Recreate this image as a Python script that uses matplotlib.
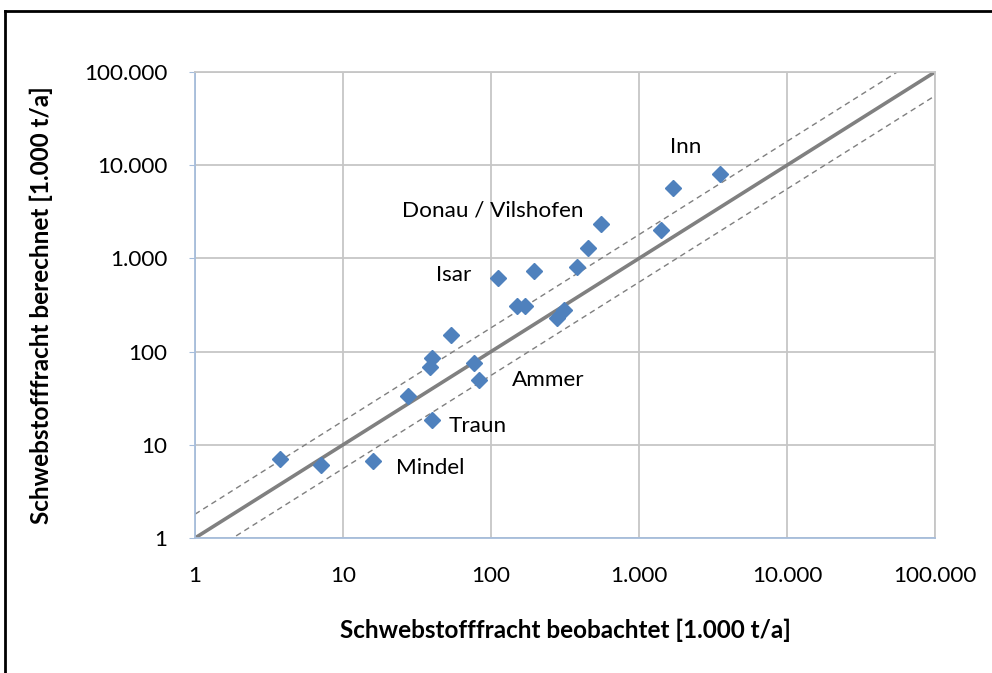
import matplotlib
matplotlib.use("Agg")
import matplotlib.pyplot as plt
from matplotlib.lines import Line2D
import numpy as np

# Observed vs. computed suspended sediment load [1.000 t/a]
beobachtet = [3.75, 7.1, 16.0, 27.6, 40.0, 39.0, 40.0, 54.0, 77.0, 83.0,
              150.0, 170.0, 280.0, 313.0, 112.0, 194.0, 380.0, 455.0,
              550.0, 1415.0, 1690.0, 3540.0]
berechnet = [7.0, 6.0, 6.7, 33.0, 18.5, 68.0, 86.0, 150.0, 76.0, 50.0,
             310.0, 305.0, 230.0, 280.0, 620.0, 730.0, 810.0, 1280.0,
             2350.0, 2030.0, 5740.0, 8100.0]

# Named stations: (name, observed, computed)
stationen = ["Inn", "Donau / Vilshofen", "Isar", "Ammer", "Traun", "Mindel"]
station_x = [3540.0, 550.0, 112.0, 83.0, 40.0, 16.0]
station_y = [8100.0, 2350.0, 620.0, 50.0, 18.5, 6.7]

tick_values = [1, 10, 100, 1000, 10000, 100000]
tick_labels = ["1", "10", "100", "1.000", "10.000", "100.000"]

band_factor = 1.8  # dashed tolerance band around the 1:1 line

plt.rcParams["font.family"] = ["Lato", "DejaVu Sans"]

fig = plt.figure(figsize=(9.92, 6.73), dpi=100)
ax = fig.add_axes([195 / 992, 1 - 538 / 673, 740 / 992, 466 / 673])

ax.set_xscale("log")
ax.set_yscale("log")
ax.set_xlim(1, 100000)
ax.set_ylim(1, 100000)

ax.grid(True, which="major", color="#c6c6c6", linewidth=1.3)
ax.set_axisbelow(True)

ref = np.array([1.0, 100000.0])
ax.plot(ref, ref, color="#808080", linewidth=2.6, solid_capstyle="butt", zorder=2)
ax.plot(ref, ref * band_factor, color="#7f7f7f", linewidth=1.0,
        linestyle=(0, (4, 3)), zorder=2)
ax.plot(ref, ref / band_factor, color="#7f7f7f", linewidth=1.0,
        linestyle=(0, (4, 3)), zorder=2)

ax.plot(beobachtet, berechnet, linestyle="none", marker="D", markersize=8,
        color="#4f81bd", markeredgecolor="#4f81bd", zorder=3, clip_on=False)

# Station labels, placed relative to their marker in pixels
offsets = {
    "Inn": (-50, 27, "left"),
    "Donau / Vilshofen": (-17, 13, "right"),
    "Isar": (-27, 3, "right"),
    "Ammer": (33, 0, "left"),
    "Traun": (17, -6, "left"),
    "Mindel": (23, -7, "left"),
}
for name, sx, sy in zip(stationen, station_x, station_y):
    dx, dy, ha = offsets[name]
    ax.annotate(name, (sx, sy), xytext=(dx, dy), textcoords="offset pixels",
                ha=ha, va="center", fontsize=16.2, color="#000000")

ax.xaxis.set_major_locator(matplotlib.ticker.FixedLocator(tick_values))
ax.yaxis.set_major_locator(matplotlib.ticker.FixedLocator(tick_values))
ax.xaxis.set_minor_locator(matplotlib.ticker.NullLocator())
ax.yaxis.set_minor_locator(matplotlib.ticker.NullLocator())
ax.set_xticklabels(tick_labels)
ax.set_yticklabels(tick_labels)
ax.tick_params(axis="x", length=0, pad=20, labelsize=16.2)
ax.tick_params(axis="y", length=4, color="#a6bddb", pad=16, labelsize=16.2)

for side in ("left", "bottom"):
    ax.spines[side].set_color("#a6bddb")
    ax.spines[side].set_linewidth(1.3)
for side in ("top", "right"):
    ax.spines[side].set_color("#c6c6c6")
    ax.spines[side].set_linewidth(1.3)

ax.set_xlabel("Schwebstofffracht beobachtet [1.000 t/a]", fontsize=17.5,
              fontweight="bold", labelpad=24)
ax.set_ylabel("Schwebstofffracht berechnet [1.000 t/a]", fontsize=17.5,
              fontweight="bold", labelpad=22)

# Outer chart frame
fig.add_artist(Line2D([5 / 992, 1.0], [1 - 11 / 673, 1 - 11 / 673],
                      transform=fig.transFigure, color="black", linewidth=2))
fig.add_artist(Line2D([5 / 992, 5 / 992], [0.0, 1 - 11 / 673],
                      transform=fig.transFigure, color="black", linewidth=2))

fig.savefig("out.png", dpi=100)
